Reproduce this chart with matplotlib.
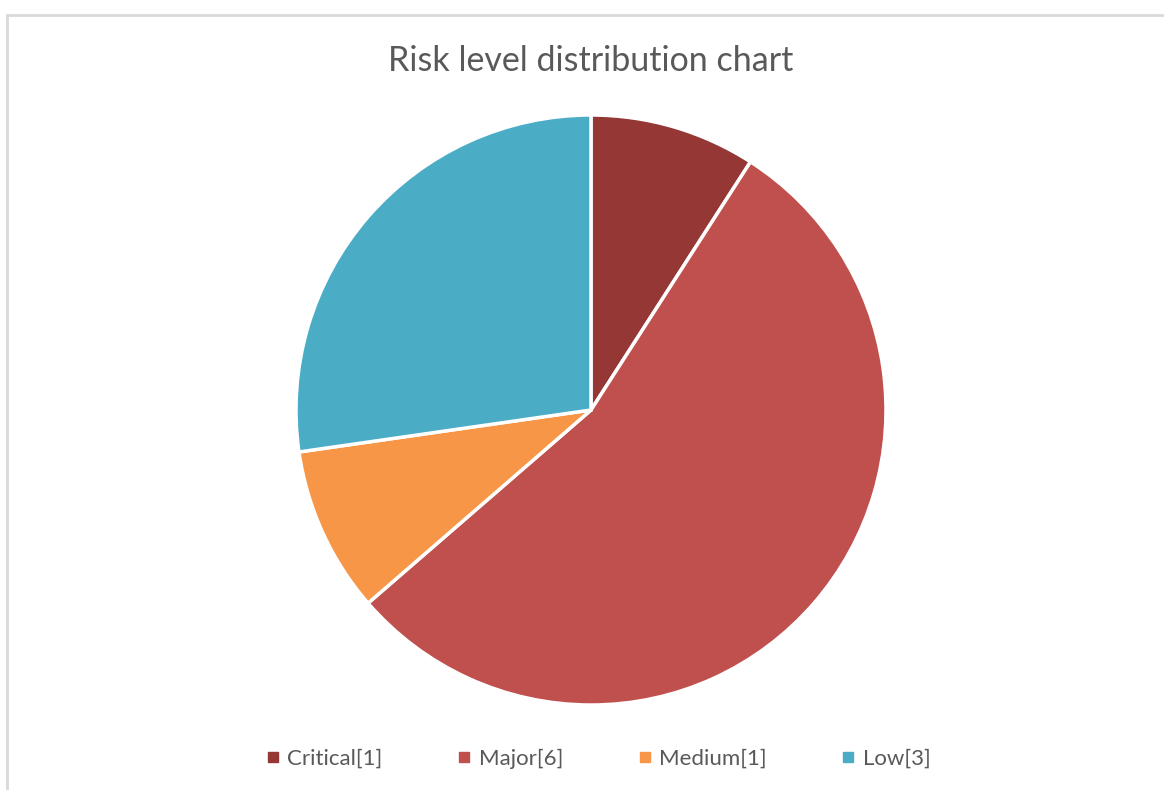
import matplotlib.pyplot as plt
from matplotlib.patches import Rectangle
from matplotlib.lines import Line2D

levels = ["Critical", "Major", "Medium", "Low"]
counts = [1, 6, 1, 3]
colors = ["#953735", "#C0504D", "#F79646", "#4BACC6"]

W, H = 1164, 790
fig = plt.figure(figsize=(W / 100, H / 100), dpi=100)
plt.rcParams['font.family'] = ['Lato', 'DejaVu Sans']

# chart frame (grey border, cut off at right/bottom)
fig.patches.append(Rectangle((7 / W, -0.1), 1.2, (H - 15) / H + 0.1,
                             transform=fig.transFigure, fill=False,
                             edgecolor="#D9D9D9", linewidth=2))

cx, cy, r = 591, 410, 295
ax = fig.add_axes([(cx - r) / W, (H - cy - r) / H, 2 * r / W, 2 * r / H])
ax.pie(counts, colors=colors, startangle=90, counterclock=False, radius=1,
       wedgeprops=dict(edgecolor="white", linewidth=2.5))
ax.set_xlim(-1, 1)
ax.set_ylim(-1, 1)
ax.set_aspect("equal")
ax.axis("off")

fig.text(cx / W, 1 - 61 / H, "Risk level distribution chart", ha="center",
         va="center", fontsize=24.5, color="#595959")

handles = [Line2D([], [], marker="s", linestyle="none", markersize=7,
                  markerfacecolor=c, markeredgecolor=c) for c in colors]
labels = [f"{l}[{n}]" for l, n in zip(levels, counts)]
fig.legend(handles, labels, loc="center", bbox_to_anchor=(599 / W, 1 - 759 / H),
           ncol=4, frameon=False, fontsize=16, labelcolor="#595959",
           handlelength=0.5, handletextpad=0.4, columnspacing=3.42)

fig.savefig("out.png", dpi=100)
